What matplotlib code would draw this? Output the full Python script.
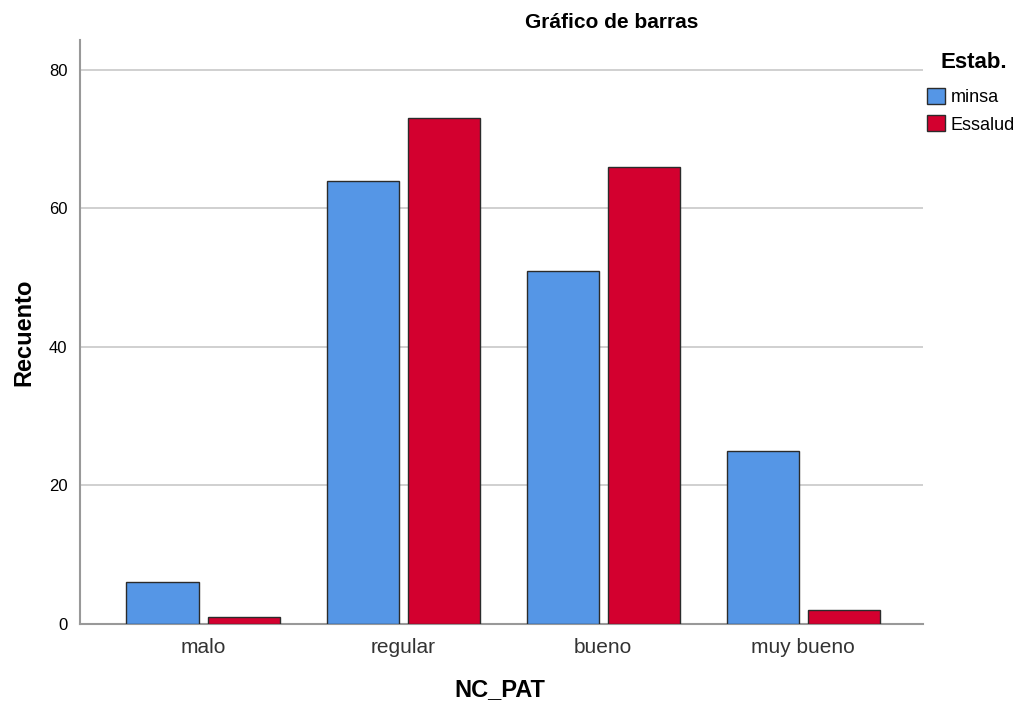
import matplotlib

matplotlib.use("Agg")
import matplotlib.pyplot as plt  # noqa: E402
import numpy as np  # noqa: E402
from matplotlib.patches import Patch  # noqa: E402

plt.rcParams["font.family"] = ["Liberation Sans", "DejaVu Sans"]

categories = ["malo", "regular", "bueno", "muy bueno"]
minsa = [6, 64, 51, 25]
essalud = [1, 73, 66, 2]
series_names = ["minsa", "Essalud"]
colors = ["#5596e6", "#d3002f"]

fig = plt.figure(figsize=(10.22, 7.08), dpi=100)
ax = fig.add_axes([80 / 1022, 84 / 708, 843 / 1022, 584 / 708])

x = np.arange(len(categories))
w = 0.36
ax.bar(x - 0.2025, minsa, w, color=colors[0], edgecolor="#2b2b2b", linewidth=1.0, zorder=3)
ax.bar(x + 0.2025, essalud, w, color=colors[1], edgecolor="#2b2b2b", linewidth=1.0, zorder=3)

ax.set_xlim(-0.615, 3.6)
ax.set_ylim(0, 84.3)
ax.set_yticks([0, 20, 40, 60, 80])
ax.set_xticks(x)
ax.set_xticklabels(categories, fontsize=15, color="#333333")
ax.tick_params(axis="y", labelsize=12, length=0, pad=9)
ax.tick_params(axis="x", length=0, pad=10)
ax.grid(axis="y", color="#c8c8c8", linewidth=1.2, zorder=0)
for s in ["top", "right"]:
    ax.spines[s].set_visible(False)
for s in ["left", "bottom"]:
    ax.spines[s].set_color("#999999")
    ax.spines[s].set_linewidth(1.5)

fig.text(24 / 1022, 1 - 332 / 708, "Recuento", rotation=90, ha="center", va="center",
         fontsize=17, fontweight="bold")
fig.text(500 / 1022, 1 - 690 / 708, "NC_PAT", ha="center", va="center",
         fontsize=17, fontweight="bold")
fig.text(612 / 1022, 1 - 22 / 708, "Gráfico de barras", ha="center", va="center",
         fontsize=15, fontweight="bold")

handles = [Patch(facecolor=c, edgecolor="#2b2b2b", label=n) for c, n in zip(colors, series_names)]
leg = fig.legend(handles=handles, loc="upper left", bbox_to_anchor=(927 / 1022, 1 - 88 / 708),
                 frameon=False, fontsize=13, handlelength=1.0, handleheight=1.0,
                 handletextpad=0.3, labelspacing=0.5, borderaxespad=0, borderpad=0)
fig.text(940 / 1022, 1 - 63 / 708, "Estab.", ha="left", va="center", fontsize=16, fontweight="bold")

fig.savefig("out.png", dpi=100)
